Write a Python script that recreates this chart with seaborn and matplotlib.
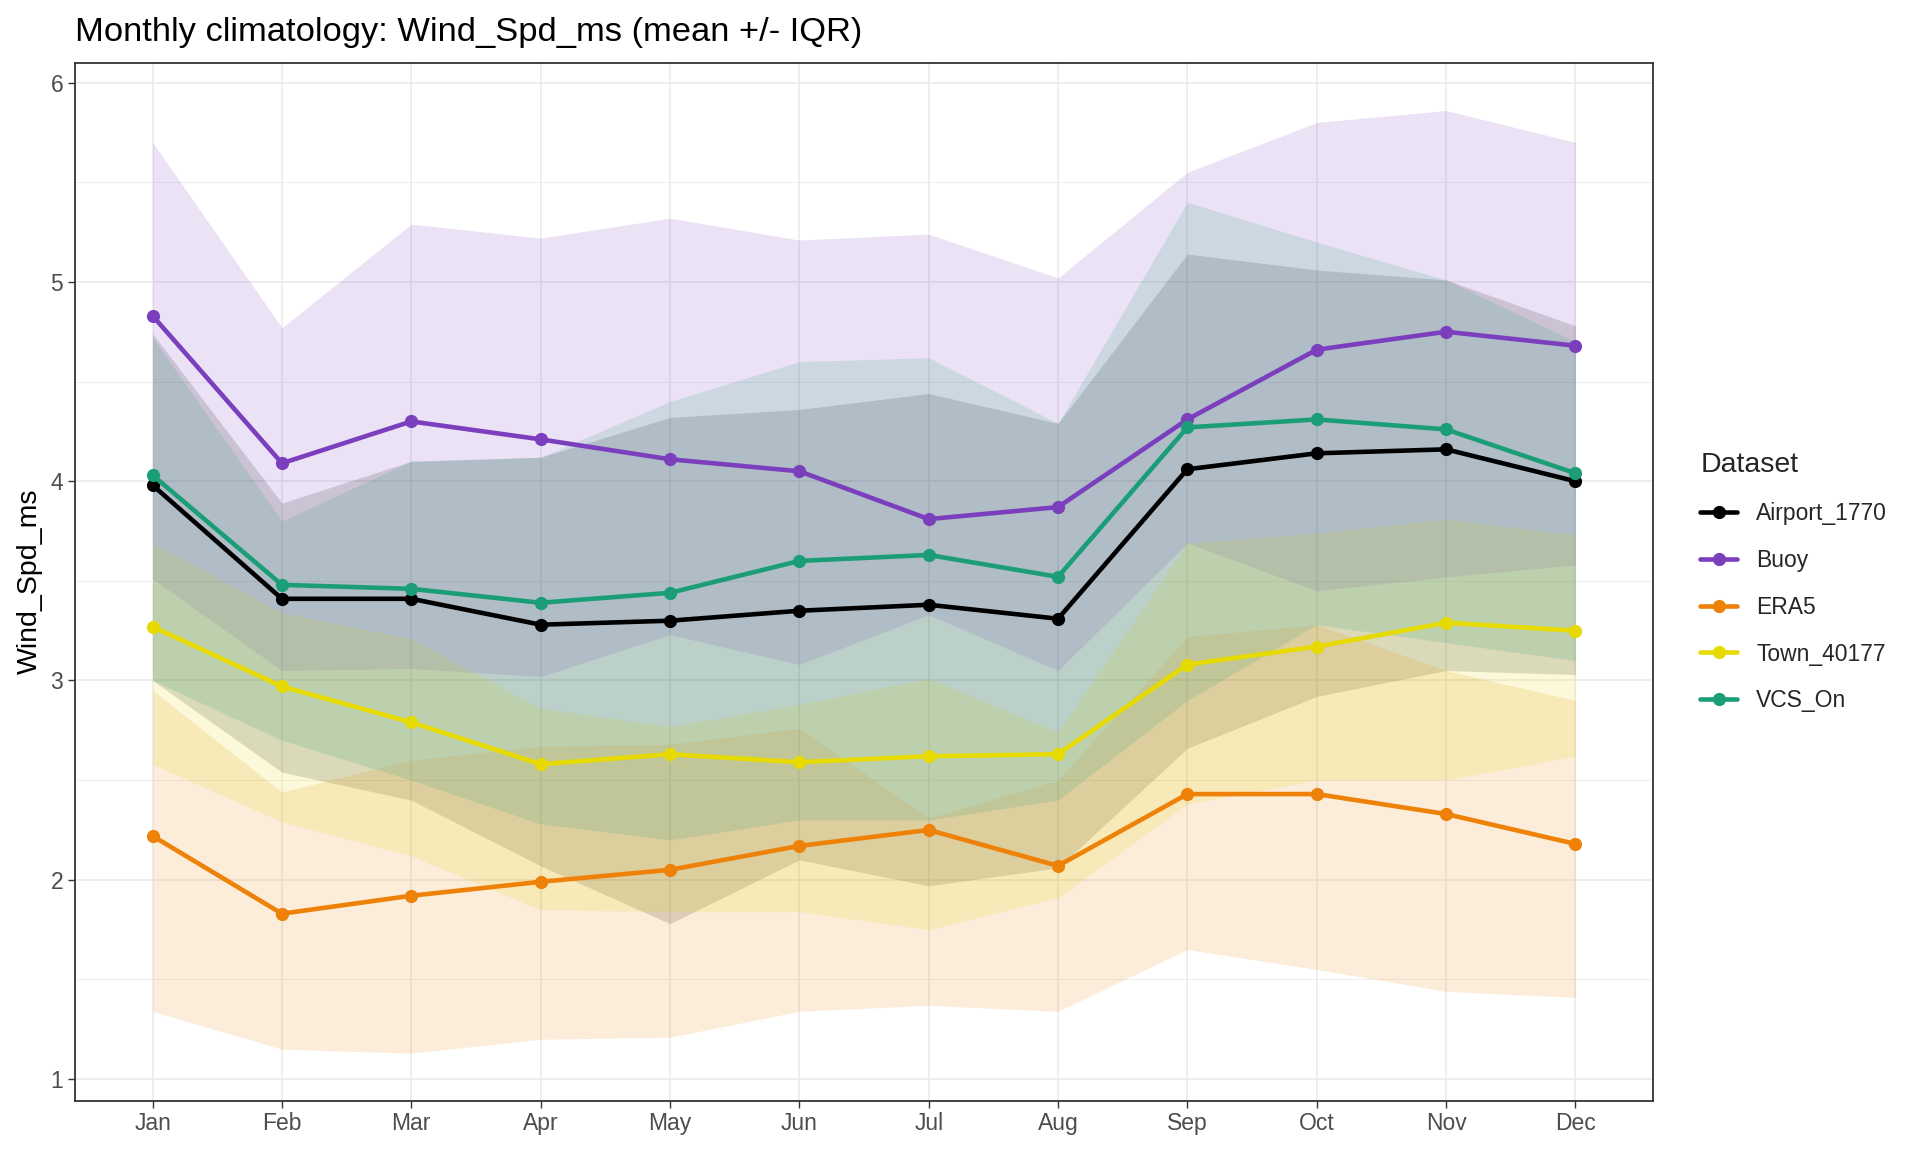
import numpy as np
import pandas as pd
import matplotlib
matplotlib.use("Agg")
import matplotlib.pyplot as plt
import seaborn as sns
from matplotlib.lines import Line2D
from matplotlib.ticker import MultipleLocator

# ---------------- data ----------------
months = ["Jan", "Feb", "Mar", "Apr", "May", "Jun", "Jul", "Aug", "Sep", "Oct", "Nov", "Dec"]
datasets = ["Airport_1770", "Buoy", "ERA5", "Town_40177", "VCS_On"]

airport_mean = [3.98, 3.41, 3.41, 3.28, 3.30, 3.35, 3.38, 3.31, 4.06, 4.14, 4.16, 4.00]
airport_q25 = [3.00, 2.54, 2.40, 2.07, 1.78, 2.10, 1.97, 2.06, 2.66, 2.92, 3.05, 3.03]
airport_q75 = [4.74, 3.89, 4.10, 4.12, 4.32, 4.36, 4.44, 4.29, 5.14, 5.06, 5.01, 4.78]

buoy_mean = [4.83, 4.09, 4.30, 4.21, 4.11, 4.05, 3.81, 3.87, 4.31, 4.66, 4.75, 4.68]
buoy_q25 = [3.51, 3.05, 3.06, 3.02, 3.23, 3.08, 3.33, 3.05, 3.69, 3.45, 3.52, 3.58]
buoy_q75 = [5.70, 4.77, 5.29, 5.22, 5.32, 5.21, 5.24, 5.02, 5.55, 5.80, 5.86, 5.70]

era5_mean = [2.22, 1.83, 1.92, 1.99, 2.05, 2.17, 2.25, 2.07, 2.43, 2.43, 2.33, 2.18]
era5_q25 = [1.34, 1.15, 1.13, 1.20, 1.21, 1.34, 1.37, 1.34, 1.65, 1.55, 1.44, 1.41]
era5_q75 = [2.95, 2.44, 2.60, 2.67, 2.68, 2.76, 2.31, 2.50, 3.22, 3.28, 3.05, 2.90]

town_mean = [3.27, 2.97, 2.79, 2.58, 2.63, 2.59, 2.62, 2.63, 3.08, 3.17, 3.29, 3.25]
town_q25 = [2.58, 2.29, 2.12, 1.85, 1.84, 1.84, 1.75, 1.91, 2.38, 2.50, 2.50, 2.62]
town_q75 = [3.69, 3.34, 3.21, 2.86, 2.77, 2.88, 3.01, 2.74, 3.69, 3.74, 3.81, 3.73]

vcs_mean = [4.03, 3.48, 3.46, 3.39, 3.44, 3.60, 3.63, 3.52, 4.27, 4.31, 4.26, 4.04]
vcs_q25 = [3.00, 2.70, 2.50, 2.28, 2.20, 2.30, 2.30, 2.40, 2.90, 3.28, 3.19, 3.10]
vcs_q75 = [4.72, 3.80, 4.10, 4.12, 4.40, 4.60, 4.62, 4.29, 5.40, 5.20, 5.01, 4.70]

colors = {
    "Airport_1770": "#000000",
    "Buoy": "#7B3FBE",
    "ERA5": "#EE8208",
    "Town_40177": "#E6DA00",
    "VCS_On": "#1B9E77",
}

series = {
    "Airport_1770": (airport_mean, airport_q25, airport_q75),
    "Buoy": (buoy_mean, buoy_q25, buoy_q75),
    "ERA5": (era5_mean, era5_q25, era5_q75),
    "Town_40177": (town_mean, town_q25, town_q75),
    "VCS_On": (vcs_mean, vcs_q25, vcs_q75),
}

rows = []
for name in datasets:
    m, lo, hi = series[name]
    for i, mon in enumerate(months):
        rows.append({"Dataset": name, "month_idx": i, "Month": mon,
                     "mean": m[i], "q25": lo[i], "q75": hi[i]})
df = pd.DataFrame(rows)

# ---------------- style ----------------
sns.set_theme(style="white")
plt.rcParams['font.family'] = ['Liberation Sans', 'DejaVu Sans']

W, H = 1920, 1152
fig = plt.figure(figsize=(W / 100, H / 100), dpi=100)
pl, pr, pt, pb = 75, 1653, 62.5, 1100.6
ax = fig.add_axes([pl / W, 1 - pb / H, (pr - pl) / W, (pb - pt) / H])
ax.set_facecolor("white")

# ribbons
for name in datasets:
    sub = df[df["Dataset"] == name]
    ax.fill_between(sub["month_idx"], sub["q25"], sub["q75"],
                    color=colors[name], alpha=0.15, linewidth=0, zorder=2)

# lines + points
sns.lineplot(data=df, x="month_idx", y="mean", hue="Dataset",
             hue_order=datasets, palette=colors, marker="o",
             markersize=9.5, markeredgewidth=0, linewidth=3.3,
             errorbar=None, legend=False, ax=ax, zorder=3)

ax.set_xlim(-0.6, 11.6)
ax.set_ylim(0.892, 6.101)
ax.set_xticks(range(12))
ax.set_xticklabels(months)
ax.yaxis.set_major_locator(MultipleLocator(1))
ax.yaxis.set_minor_locator(MultipleLocator(0.5))

ax.grid(True, which="major", color="#EBEBEB", linewidth=1.2, zorder=0)
ax.grid(True, which="minor", axis="y", color="#EBEBEB", linewidth=0.6, zorder=0)
ax.set_axisbelow(True)

for s in ax.spines.values():
    s.set_color("#333333")
    s.set_linewidth(1.3)
    s.set_visible(True)

ax.tick_params(axis="both", which="major", length=5, width=1.0, color="#333333",
               labelcolor="#4D4D4D", labelsize=16.5, pad=3.5,
               bottom=True, left=True)
ax.tick_params(axis="y", which="minor", length=0)

ax.set_xlabel("")
ax.set_ylabel("")
fig.text(30 / W, 1 - ((pt + pb) / 2) / H, "Wind_Spd_ms", rotation=90,
         ha="center", va="center", fontsize=20.5, color="black")
fig.text(pl / W, 1 - 32 / H, "Monthly climatology: Wind_Spd_ms (mean +/- IQR)",
         ha="left", va="center", fontsize=24.8, color="black")

handles = [Line2D([0], [0], color=colors[n], lw=3.3, marker="o", markersize=9.5,
                  markeredgewidth=0) for n in datasets]
leg = fig.legend(handles, datasets, title="Dataset", loc="upper left",
                 bbox_to_anchor=(1691 / W, 1 - 443 / H), frameon=False,
                 fontsize=16.5, title_fontsize=20.5, handlelength=1.6,
                 handletextpad=0.85, labelspacing=1.04, borderaxespad=0,
                 alignment="left")

fig.savefig("out.png", dpi=100)
